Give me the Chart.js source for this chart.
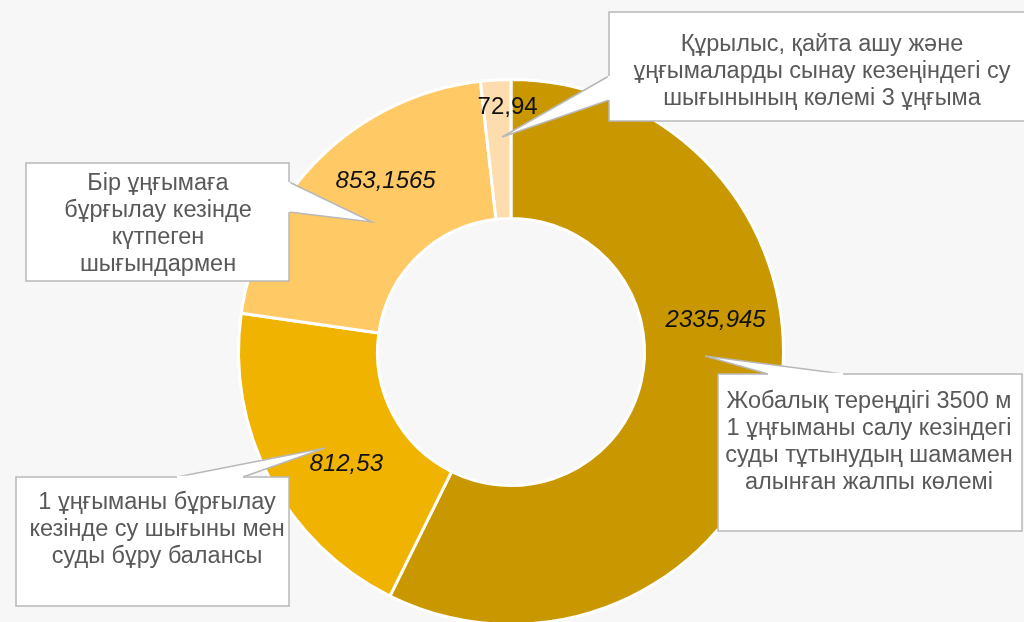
<!DOCTYPE html>
<html>
<head>
<meta charset="utf-8">
<script src="https://cdn.jsdelivr.net/npm/chart.js@4"></script>
<style>
  html, body { margin: 0; padding: 0; background: #f7f7f7; overflow: hidden; }
  #wrap { width: 1024px; height: 708px; }
</style>
</head>
<body>
<div id="wrap"><canvas id="waterChart" width="1024" height="708"></canvas></div>
<script>
// slices, clockwise from 12 o'clock
const categories = [
  "Жобалық тереңдігі 3500 м 1 ұңғыманы салу кезіндегі суды тұтынудың шамамен алынған жалпы көлемі",
  "1 ұңғыманы бұрғылау кезінде су шығыны мен суды бұру балансы",
  "Бір ұңғымаға бұрғылау кезінде күтпеген шығындармен",
  "Құрылыс, қайта ашу және ұңғымаларды сынау кезеңіндегі су шығынының көлемі 3 ұңғыма"
];
const values = [2335.945, 812.53, 853.1565, 72.94];
const valueLabels = ["2335,945", "812,53", "853,1565", "72,94"];
const labelItalic = [true, true, true, false];
const sliceColors = ["#c99700", "#f0b400", "#ffc966", "#fddcad"];

// callout text, already broken into lines
const calloutLines = [
  ["Жобалық тереңдігі 3500 м", "1 ұңғыманы салу кезіндегі", "суды тұтынудың шамамен", "алынған жалпы көлемі"],
  ["1 ұңғыманы бұрғылау", "кезінде су шығыны мен", "суды бұру балансы"],
  ["Бір ұңғымаға", "бұрғылау кезінде", "күтпеген", "шығындармен"],
  ["Құрылыс, қайта ашу және", "ұңғымаларды сынау кезеңіндегі су", "шығынының көлемі 3 ұңғыма"]
];

// nudge of each value label from the slice centre
const labelShift = [[7, -78], [15, 18], [16, -25], [8, -42]];

// callout boxes: box, wedge base (two points), tip, first text line centre
const callouts = [
  { box: [718, 374, 304, 157], base: [[768, 374], [843, 374]], tip: [705, 356], text: [869, 402] },
  { box: [16, 477, 273, 129], base: [[177, 477], [243, 477]], tip: [325, 448], text: [157, 503] },
  { box: [26, 163, 263, 118], base: [[289, 182], [289, 212]], tip: [372, 222], text: [158, 184] },
  { box: [609, 12, 420, 109], base: [[609, 76], [609, 100]], tip: [502, 137], text: [822, 45] }
];

const calloutPlugin = {
  id: "callouts",
  afterDatasetsDraw(chart) {
    const c = chart.ctx;
    const meta = chart.getDatasetMeta(0);

    // value labels
    c.save();
    c.fillStyle = "#111";
    c.textAlign = "center";
    c.textBaseline = "middle";
    meta.data.forEach((arc, i) => {
      const p = arc.tooltipPosition();
      c.font = (labelItalic[i] ? "italic " : "") + "24px 'Liberation Sans', Arial, sans-serif";
      c.fillText(valueLabels[i], p.x + labelShift[i][0], p.y + labelShift[i][1]);
    });
    c.restore();

    // speech bubble callouts
    callouts.forEach((co, i) => {
      const [bx, by, bw, bh] = co.box;
      c.save();
      c.fillStyle = "#ffffff";
      c.strokeStyle = "#b8b8b8";
      c.lineWidth = 1.5;
      c.fillRect(bx, by, bw, bh);
      c.strokeRect(bx, by, bw, bh);
      // wedge
      c.beginPath();
      c.moveTo(co.base[0][0], co.base[0][1]);
      c.lineTo(co.tip[0], co.tip[1]);
      c.lineTo(co.base[1][0], co.base[1][1]);
      c.closePath();
      c.fill();
      c.beginPath();
      c.moveTo(co.base[0][0], co.base[0][1]);
      c.lineTo(co.tip[0], co.tip[1]);
      c.lineTo(co.base[1][0], co.base[1][1]);
      c.stroke();
      // cover the box border between the wedge base points
      c.beginPath();
      c.moveTo(co.base[0][0], co.base[0][1]);
      c.lineTo(co.base[1][0], co.base[1][1]);
      c.lineWidth = 2.5;
      c.strokeStyle = "#ffffff";
      c.stroke();

      c.font = "23.5px 'Liberation Sans', Arial, sans-serif";
      c.fillStyle = "#595959";
      c.textAlign = "center";
      c.textBaseline = "middle";
      calloutLines[i].forEach((line, j) => {
        c.fillText(line, co.text[0], co.text[1] + j * 26.8);
      });
      c.restore();
    });
  }
};

new Chart(document.getElementById("waterChart"), {
  type: "doughnut",
  data: {
    labels: categories,
    datasets: [{
      data: values,
      backgroundColor: sliceColors,
      borderColor: "#ffffff",
      borderWidth: 3
    }]
  },
  options: {
    responsive: false,
    animation: false,
    cutout: "49%",
    layout: { padding: { left: 236, right: 238, top: 78, bottom: 82 } },
    plugins: {
      legend: { display: false },
      tooltip: { enabled: false }
    }
  },
  plugins: [calloutPlugin]
});
</script>
</body>
</html>
